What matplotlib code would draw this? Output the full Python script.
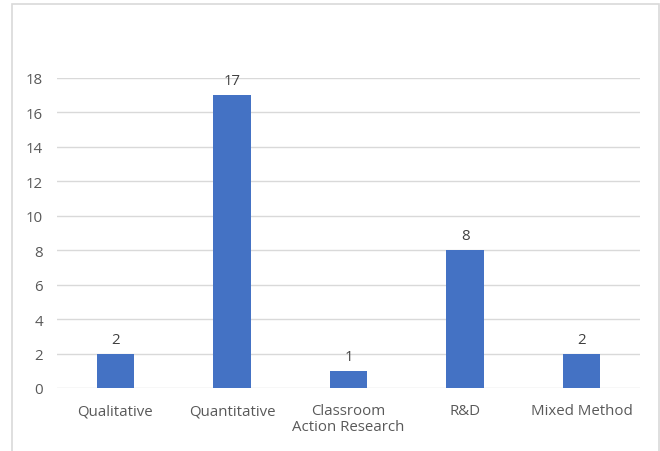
import matplotlib.pyplot as plt
from matplotlib.patches import Rectangle

categories = ['Qualitative', 'Quantitative', 'Classroom\nAction Research', 'R&D', 'Mixed Method']
counts = [2, 17, 1, 8, 2]

plt.rcParams['font.family'] = ['Open Sans', 'DejaVu Sans']

fig = plt.figure(figsize=(6.6, 4.52), dpi=100)
ax = fig.add_axes([57 / 660, 1 - 389 / 452, 583 / 660, 310 / 452])

# outer chart frame, bottom edge runs off the image
fig.patches.append(Rectangle((12 / 660, -0.05), 647 / 660, 1.05 - 5 / 452,
                             transform=fig.transFigure, fill=False,
                             edgecolor='#D9D9D9', linewidth=1.2))

x = range(len(categories))
bars = ax.bar(x, counts, width=0.32, color='#4472C4', zorder=3)
for b, v in zip(bars, counts):
    ax.text(b.get_x() + b.get_width() / 2, v + 0.4, str(v), ha='center',
            va='bottom', fontsize=10.8, color='#404040')

ax.set_xlim(-0.5, len(categories) - 0.5)
ax.set_ylim(0, 18)
ax.set_yticks(range(0, 19, 2))
ax.set_xticks(list(x))
ax.set_xticklabels(categories, fontsize=10.8, color='#595959', linespacing=1.05)
ax.tick_params(axis='y', labelsize=10.8, labelcolor='#595959', length=0, pad=10)
ax.tick_params(axis='x', length=0, pad=11)
ax.grid(axis='y', color='#D9D9D9', linewidth=1, zorder=0)
for s in ax.spines.values():
    s.set_visible(False)

fig.savefig('out.png', dpi=100)
